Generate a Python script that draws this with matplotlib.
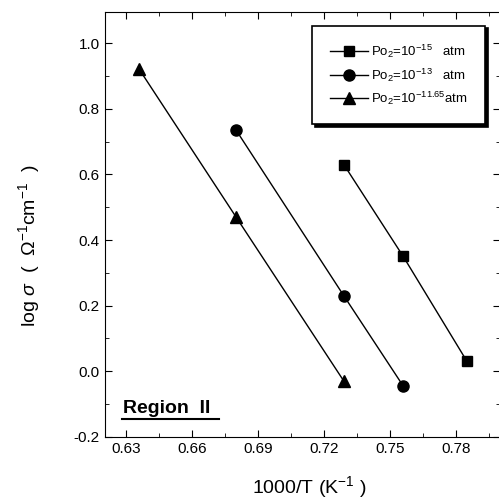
import matplotlib.pyplot as plt
from matplotlib.ticker import MultipleLocator

plt.rcParams['font.family'] = ['Liberation Sans', 'DejaVu Sans']
plt.rcParams['mathtext.fontset'] = 'custom'
plt.rcParams['mathtext.rm'] = 'Liberation Sans'
plt.rcParams['mathtext.it'] = 'Liberation Sans:italic'

# data
x_sq = [0.729, 0.756, 0.785]
y_sq = [0.63, 0.35, 0.03]
x_ci = [0.680, 0.729, 0.756]
y_ci = [0.735, 0.23, -0.045]
x_tr = [0.636, 0.680, 0.729]
y_tr = [0.92, 0.47, -0.03]
labels = [r'Po$_2$=10$^{-15}$   atm', r'Po$_2$=10$^{-13}$   atm', r'Po$_2$=10$^{-11.65}$atm']

fig = plt.figure(figsize=(4.99, 5.01), dpi=100)
ax = fig.add_axes([0.21, 0.128, 0.792, 0.848])

ax.plot(x_sq, y_sq, '-s', color='black', lw=1, ms=7, label=labels[0])
ax.plot(x_ci, y_ci, '-o', color='black', lw=1, ms=8, label=labels[1])
ax.plot(x_tr, y_tr, '-^', color='black', lw=1, ms=8, label=labels[2])

ax.set_xlim(0.6203, 0.8)
ax.set_ylim(-0.2, 1.095)
ax.xaxis.set_minor_locator(MultipleLocator(0.015))
ax.yaxis.set_minor_locator(MultipleLocator(0.1))
ax.set_xticks([0.63, 0.66, 0.69, 0.72, 0.75, 0.78])
ax.set_xticklabels(['0.63', '0.66', '0.69', '0.72', '0.75', '0.78'])
ax.set_yticks([-0.2, 0.0, 0.2, 0.4, 0.6, 0.8, 1.0])
ax.set_yticklabels(['-0.2', '0.0', '0.2', '0.4', '0.6', '0.8', '1.0'])
ax.tick_params(which='both', direction='in', top=True, right=True, labelsize=11)
ax.tick_params(which='major', length=5)
ax.tick_params(which='minor', length=3)

ax.set_xlabel(r'1000/T (K$^{-1}$ )', fontsize=14)
ax.xaxis.set_label_coords(0.518, -0.088)
ax.set_ylabel(r'log $\sigma$  (  $\Omega^{-1}$cm$^{-1}$  )', fontsize=14)
ax.yaxis.set_label_coords(-0.16, 0.449)

ax.text(0.6285, -0.127, 'Region  II', fontsize=14, fontweight='bold', ha='left', va='baseline')
ax.plot([0.6283, 0.6724], [-0.145, -0.145], color='black', lw=1.5)

leg = ax.legend(loc='upper right', bbox_to_anchor=(0.962, 0.968), borderaxespad=0,
                fontsize=9.5, frameon=True, fancybox=False,
                shadow={'color': 'black', 'alpha': 1}, handlelength=2.9,
                handletextpad=0.25, borderpad=1.3, labelspacing=0.47)
leg.get_frame().set_edgecolor('black')
leg.get_frame().set_linewidth(1.2)
leg.get_frame().set_alpha(1)

fig.savefig('out.png', dpi=100)
